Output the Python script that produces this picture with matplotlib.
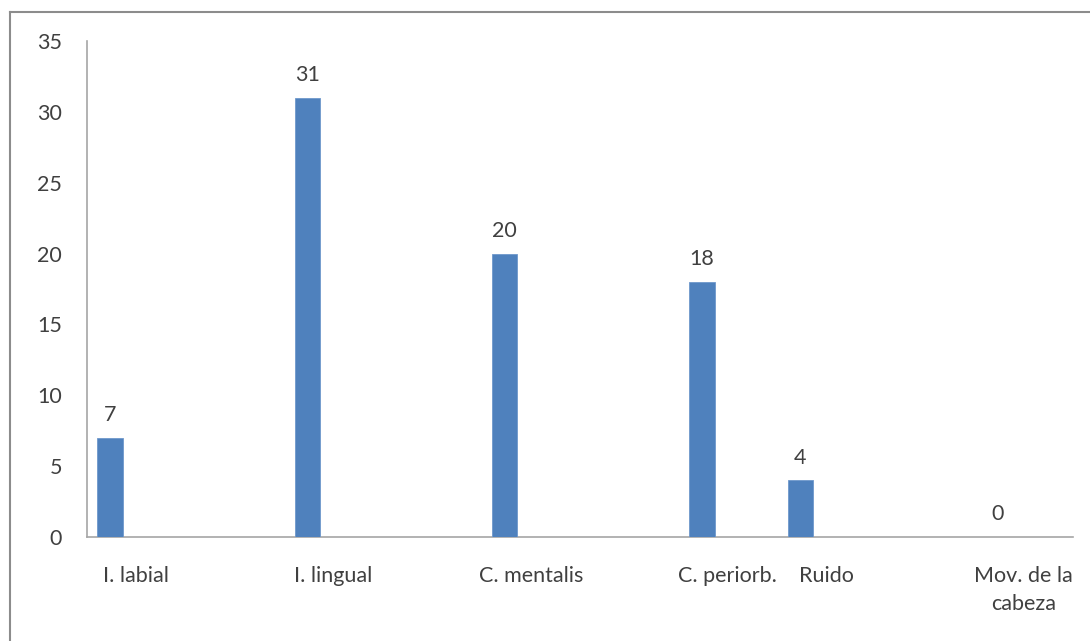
import matplotlib
matplotlib.use("Agg")
import matplotlib.pyplot as plt
from matplotlib.lines import Line2D

# data
categories = ["I. labial", "I. lingual", "C. mentalis", "C. periorb.", "Ruido", "Mov. de la\ncabeza"]
values = [7, 31, 20, 18, 4, 0]
y_ticks = [0, 5, 10, 15, 20, 25, 30, 35]

# layout: category slots on a 10-slot axis, bar sits left of slot centre
slots = [0, 2, 4, 6, 7, 9]
n_slots = 10
bar_w = 0.26
bar_shift = -0.265

bar_color = "#4F81BD"
text_color = "#404040"
axis_color = "#A6A6A6"
fs = 15.5

plt.rcParams["font.family"] = ["Lato", "DejaVu Sans"]

fig = plt.figure(figsize=(10.9, 6.41), dpi=100)
ax = fig.add_axes([87 / 1090, 1 - 537 / 641, (1073 - 87) / 1090, (537 - 41) / 641])

xs = [s + bar_shift for s in slots]
ax.bar(xs, values, width=bar_w, color=bar_color, edgecolor="#6F98CC", linewidth=0.6, zorder=3)

for x, v in zip(xs, values):
    ax.annotate(str(v), (x, v), xytext=(0, 9), textcoords="offset points",
                ha="center", va="bottom", fontsize=fs, color=text_color)

ax.set_xlim(-0.5, n_slots - 0.5)
ax.set_ylim(0, 35)
ax.set_yticks(y_ticks)
ax.set_xticks(slots)
ax.set_xticklabels(categories, linespacing=1.5)

ax.tick_params(axis="y", length=0, pad=18, labelsize=fs, labelcolor=text_color)
ax.tick_params(axis="x", length=0, pad=21, labelsize=fs, labelcolor=text_color)

for side in ["top", "right"]:
    ax.spines[side].set_visible(False)
for side in ["left", "bottom"]:
    ax.spines[side].set_color(axis_color)
    ax.spines[side].set_linewidth(1.2)

# chart area border (only top and left edges show in the crop)
fig.add_artist(Line2D([10 / 1090, 10 / 1090], [0, 1 - 12 / 641], transform=fig.transFigure,
                      color="#8C8C8C", linewidth=1.5))
fig.add_artist(Line2D([10 / 1090, 1], [1 - 12 / 641, 1 - 12 / 641], transform=fig.transFigure,
                      color="#8C8C8C", linewidth=1.5))

fig.savefig("out.png", dpi=100)
